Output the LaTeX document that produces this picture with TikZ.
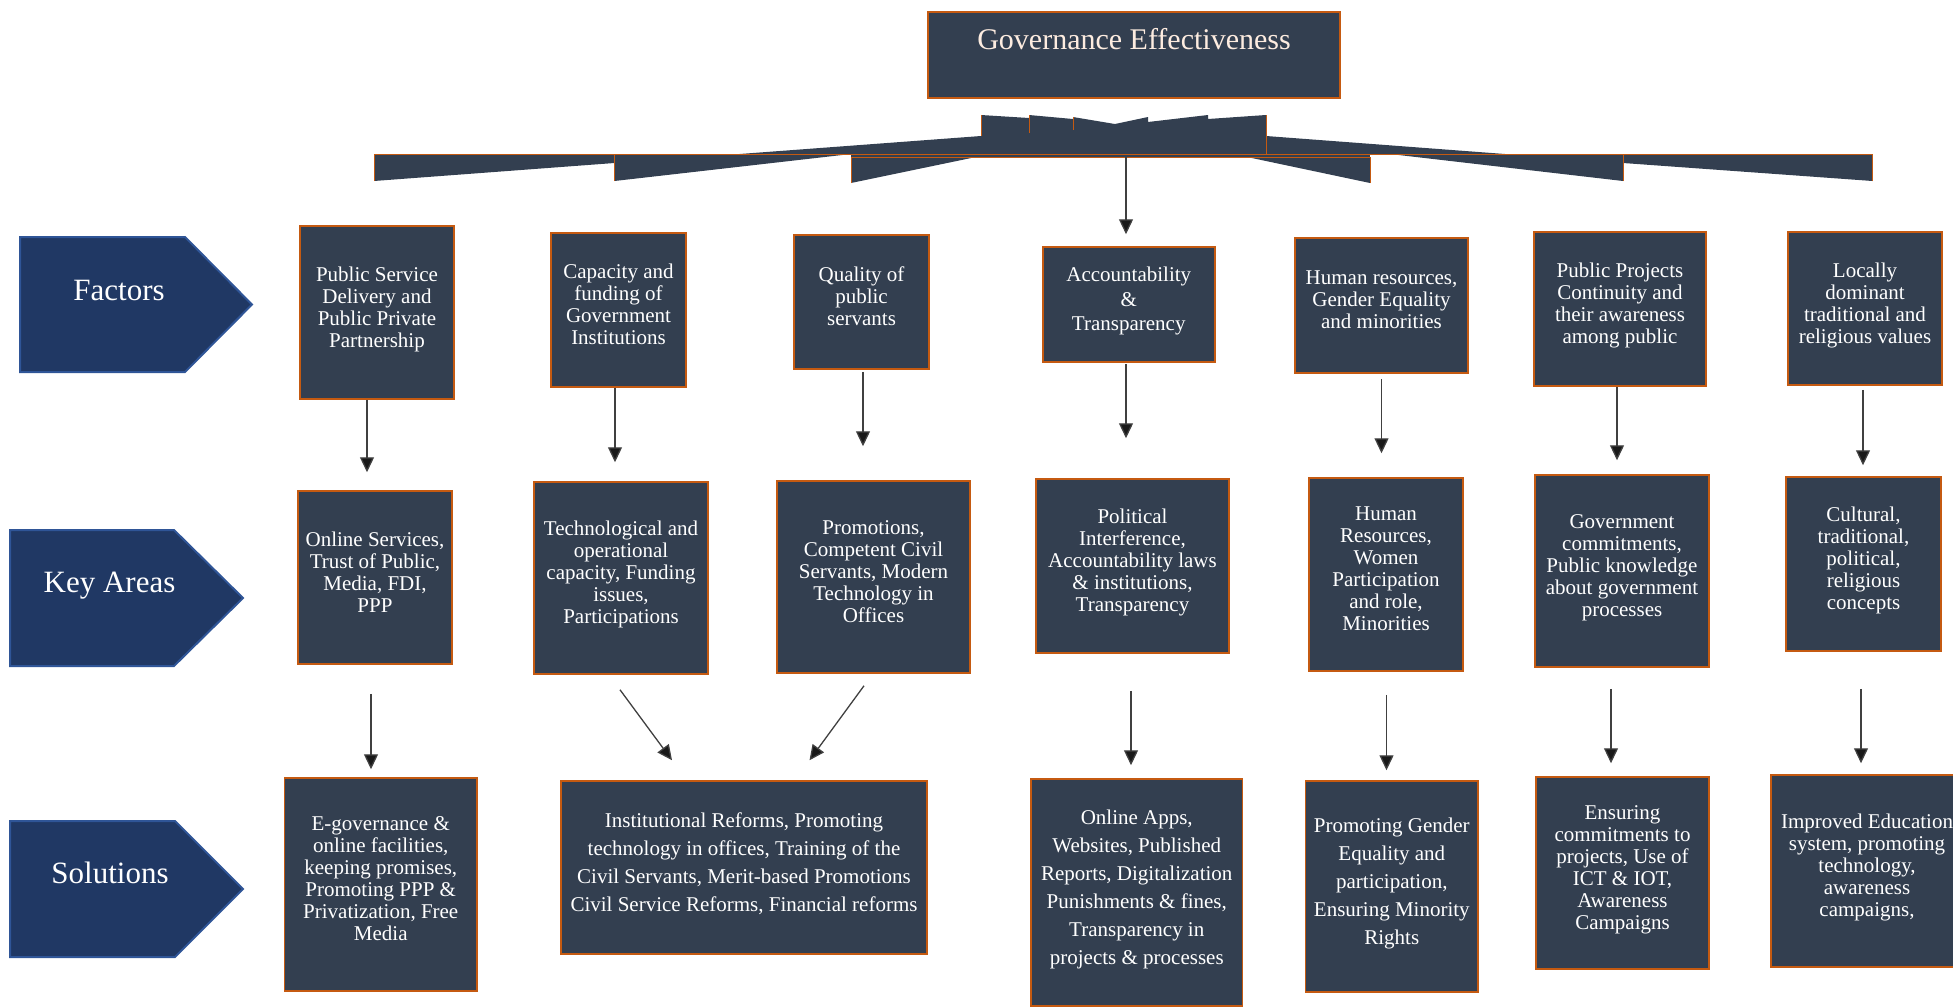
\documentclass[tikz,border=0pt]{standalone}
\usepackage{fontspec}
\setmainfont{Liberation Serif}
\usetikzlibrary{arrows.meta,calc}

\definecolor{slate}{RGB}{51,63,80}
\definecolor{rust}{RGB}{197,90,17}
\definecolor{navy}{RGB}{32,56,100}
\definecolor{navyline}{RGB}{47,85,151}
\definecolor{peach}{RGB}{253,236,224}

\tikzset{
	box/.style={draw=rust, line width=1.5pt, fill=slate, text=white, align=center, inner sep=2pt,
		font=\fontsize{21}{22}\selectfont, text depth=11pt},
	wide/.style={font=\fontsize{21}{28}\selectfont},
	tag/.style={draw=navyline, line width=2pt, fill=navy},
	tagtext/.style={text=white, font=\fontsize{31}{36}\selectfont, anchor=base},
	arr/.style={draw=black!75, line width=1.3pt, -{Triangle[length=15pt,width=14pt,fill=black!90]}},
	edge/.style={draw=rust, line width=1pt}
}

\begin{document}
\begin{tikzpicture}[x=1pt, y=-1pt]
	\useasboundingbox (0,0) rectangle (1953,1007);

	% title
	\node[box, minimum width=412pt, minimum height=86pt, font=\fontsize{30}{34}\selectfont,
		text=peach, text height=21pt, text depth=32pt] (goal) at (1134,55) {Governance Effectiveness};

	% fan under the title
	\fill[slate] (739.5,154) -- (981,136) -- (981,115) -- (1029,118) -- (1029,115) -- (1073,119)
		-- (1073,117) -- (1115,124) -- (1148,117) -- (1148,122) -- (1208,115) -- (1208,119)
		-- (1266,115) -- (1266,136) -- (1505,154) -- cycle;
	\fill[slate] (374,154) -- (614.5,154) -- (614.5,163) -- (374,181) -- cycle;
	\fill[slate] (614.5,154) -- (851,154) -- (614.5,181) -- cycle;
	\fill[slate] (851,157) -- (976,157) -- (851,183) -- cycle;
	\fill[slate] (851,154) rectangle (1370,157);
	\fill[slate] (1247,157) -- (1370,157) -- (1370,183) -- cycle;
	\fill[slate] (1390,154) -- (1623,154) -- (1623,181) -- cycle;
	\fill[slate] (1623,154) -- (1872.5,154) -- (1872.5,181) -- (1623,163) -- cycle;
	\draw[edge] (374,154) -- (1872.5,154);
	\draw[edge] (851,157) -- (1370,157);
	\draw[edge] (374,154) -- (374,181) (614.5,154) -- (614.5,181) (851,157) -- (851,183)
		(1370,157) -- (1370,183) (1623,154) -- (1623,181) (1872.5,154) -- (1872.5,181);
	\draw[edge, line width=0.8pt] (981,115) -- (981,136) (1029,115) -- (1029,133) (1073,117) -- (1073,130)
		(1266,115) -- (1266,154);
	\coordinate (hub) at (1126,157);

	% row labels
	\draw[tag] (20,237) -- (185,237) -- (252,304.5) -- (185,372) -- (20,372) -- cycle;
	\draw[tag] (10,530) -- (174,530) -- (243,598) -- (174,666) -- (10,666) -- cycle;
	\draw[tag] (10,821) -- (175,821) -- (243,889) -- (175,957) -- (10,957) -- cycle;
	\node[tagtext] (factors) at (119,300) {Factors};
	\node[tagtext] (areas) at (109.5,592) {Key Areas};
	\node[tagtext] (solutions) at (110,883) {Solutions};

	% factors
	\node[box, minimum width=154pt, minimum height=173pt] (F1) at (377,312.5) {Public Service\\Delivery and\\Public Private\\Partnership};
	\node[box, minimum width=135pt, minimum height=154pt] (F2) at (618.5,310) {Capacity and\\funding of\\Government\\Institutions};
	\node[box, minimum width=135pt, minimum height=134pt] (F3) at (861.5,302) {Quality of\\public\\servants};
	\node[box, minimum width=172pt, minimum height=115pt, font=\fontsize{21}{24.5}\selectfont] (F4) at (1128.75,304.5) {Accountability\\\&\\Transparency};
	\node[box, minimum width=173pt, minimum height=135pt] (F5) at (1381.5,305.5) {Human resources,\\Gender Equality\\and minorities};
	\node[box, minimum width=172pt, minimum height=154pt] (F6) at (1620,309) {Public Projects\\Continuity and\\their awareness\\among public};
	\node[box, minimum width=154pt, minimum height=153pt] (F7) at (1865,308.5) {Locally\\dominant\\traditional and\\religious values};

	% key areas
	\node[box, minimum width=154pt, minimum height=173pt] (K1) at (375,577.5) {Online Services,\\Trust of Public,\\Media, FDI,\\PPP};
	\node[box, minimum width=174pt, minimum height=192pt] (K2) at (621,578) {Technological and\\operational\\capacity, Funding\\issues,\\Participations};
	\node[box, minimum width=193pt, minimum height=192pt] (K3) at (873.5,577) {Promotions,\\Competent Civil\\Servants, Modern\\Technology in\\Offices};
	\node[box, minimum width=193pt, minimum height=174pt] (K4) at (1132.5,566) {Political\\Interference,\\Accountability laws\\\& institutions,\\Transparency};
	\node[box, minimum width=154pt, minimum height=193pt] (K5) at (1386,574.5) {Human\\Resources,\\Women\\Participation\\and role,\\Minorities};
	\node[box, minimum width=174pt, minimum height=192pt] (K6) at (1622,571) {Government\\commitments,\\Public knowledge\\about government\\processes};
	\node[box, minimum width=155pt, minimum height=174pt] (K7) at (1863.5,564) {Cultural,\\traditional,\\political,\\religious\\concepts};

	% solutions
	\node[box, minimum width=192.5pt, minimum height=213pt] (S1) at (380.75,884.5) {E-governance \&\\online facilities,\\keeping promises,\\Promoting PPP \&\\Privatization, Free\\Media};
	\node[box, wide, minimum width=366pt, minimum height=173pt] (S2) at (744,867.5) {Institutional Reforms, Promoting\\technology in offices, Training of the\\Civil Servants, Merit-based Promotions\\Civil Service Reforms, Financial reforms};
	\node[box, wide, minimum width=211.5pt, minimum height=227pt] (S3) at (1136.75,892.5) {Online Apps,\\Websites, Published\\Reports, Digitalization\\Punishments \& fines,\\Transparency in\\projects \& processes};
	\node[box, wide, minimum width=172.5pt, minimum height=211pt] (S4) at (1391.8,886.5) {Promoting Gender\\Equality and\\participation,\\Ensuring Minority\\Rights};
	\node[box, minimum width=173pt, minimum height=192pt] (S5) at (1622.5,873) {Ensuring\\commitments to\\projects, Use of\\ICT \& IOT,\\Awareness\\Campaigns};
	\node[box, minimum width=192pt, minimum height=192pt] (S6) at (1867,871) {Improved Education\\system, promoting\\technology,\\awareness\\campaigns,};

	% arrows
	\draw[arr, shorten >=12pt] (hub) -- (hub |- F4.north);

	\draw[arr] ($(F1.south)+(-10,0)$) -- ($(F1.south |- K1.north)+(-10,-18)$);
	\draw[arr] ($(F2.south)+(-3.5,0)$) -- ($(F2.south |- K2.north)+(-3.5,-19)$);
	\draw[arr] ($(F3.south)+(1.5,2)$) -- ($(F3.south |- K3.north)+(1.5,-34)$);
	\draw[arr] ($(F4.south)+(-2.75,1)$) -- ($(F4.south |- K4.north)+(-2.75,-40)$);
	\draw[arr] ($(F5.south)+(0,5)$) -- ($(F5.south |- K5.north)+(0,-24)$);
	\draw[arr] ($(F6.south)+(-3,0)$) -- ($(F6.south |- K6.north)+(-3,-14)$);
	\draw[arr] ($(F7.south)+(-2,4)$) -- ($(F7.south |- K7.north)+(-2,-11)$);

	\draw[arr] ($(K1.south)+(-4,29)$) -- ($(K1.south |- S1.north)+(-4,-8)$);
	\draw[arr] ($(K2.south)+(-1,15)$) -- ($(S2.north)+(-72,-20)$);
	\draw[arr] ($(K3.south)+(-9.5,12)$) -- ($(S2.north)+(65.5,-20)$);
	\draw[arr] ($(K4.south)+(-1.5,37)$) -- ($(K4.south |- S3.north)+(-1.5,-13)$);
	\draw[arr] ($(K5.south)+(0.5,23)$) -- ($(K5.south |- S4.north)+(0.5,-10)$);
	\draw[arr] ($(K6.south)+(-11,21)$) -- ($(K6.south |- S5.north)+(-11,-13)$);
	\draw[arr] ($(K7.south)+(-2.5,37)$) -- ($(K7.south |- S6.north)+(-2.5,-11)$);
\end{tikzpicture}
\end{document}
